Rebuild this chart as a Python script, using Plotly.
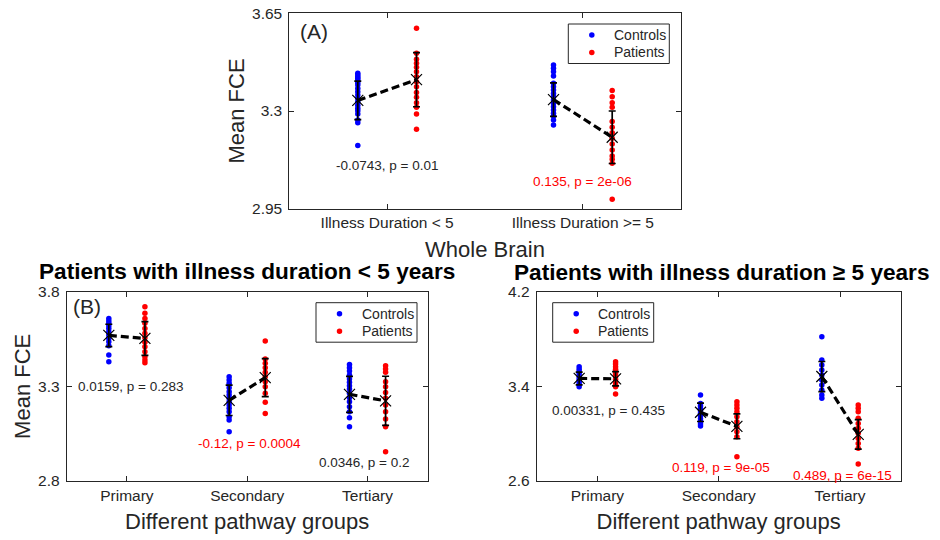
import plotly.graph_objects as go

# ---------------- Panel A: whole brain, split by illness duration ----------------
a_groups = ["Illness Duration < 5", "Illness Duration >= 5"]
a_ctrl_points = [
    [3.435, 3.429, 3.423, 3.417, 3.411, 3.401, 3.393, 3.381, 3.369, 3.357,
     3.345, 3.333, 3.321, 3.310, 3.301, 3.289, 3.268, 3.258, 3.176],
    [3.465, 3.453, 3.441, 3.425, 3.399, 3.387, 3.375, 3.363, 3.351, 3.339,
     3.328, 3.315, 3.304, 3.292, 3.282, 3.268, 3.250],
]
a_pat_points = [
    [3.596, 3.507, 3.485, 3.471, 3.457, 3.441, 3.423, 3.405, 3.387, 3.366,
     3.349, 3.330, 3.313, 3.289, 3.235],
    [3.373, 3.351, 3.330, 3.313, 3.262, 3.242, 3.222, 3.202, 3.182, 3.160,
     3.139, 3.127, 3.113, 2.984],
]
a_ctrl_mean = [3.338, 3.341]
a_ctrl_sd = [0.069, 0.060]
a_pat_sd = [0.097, 0.094]
a_diff = [-0.0743, 0.135]          # control mean minus patient mean
a_p = [0.01, 2e-06]

# ---------------- Panel B: pathway groups ----------------
pathways = ["Primary", "Secondary", "Tertiary"]

# Patients with illness duration < 5 years
bl_ctrl_points = [
    [3.659, 3.645, 3.633, 3.620, 3.606, 3.589, 3.571, 3.554, 3.536, 3.515, 3.465, 3.430],
    [3.351, 3.333, 3.316, 3.293, 3.272, 3.254, 3.237, 3.219, 3.201, 3.184, 3.166,
     3.140, 3.122, 3.060],
    [3.416, 3.398, 3.381, 3.360, 3.339, 3.321, 3.303, 3.286, 3.263, 3.240, 3.219,
     3.192, 3.166, 3.134, 3.087],
]
bl_pat_points = [
    [3.721, 3.686, 3.659, 3.633, 3.606, 3.580, 3.557, 3.533, 3.509, 3.483, 3.456,
     3.439, 3.425],
    [3.539, 3.444, 3.422, 3.398, 3.374, 3.351, 3.324, 3.298, 3.263, 3.216, 3.157],
    [3.409, 3.391, 3.374, 3.324, 3.298, 3.268, 3.237, 3.201, 3.166, 3.127, 3.087, 2.955],
]
bl_ctrl_mean = [3.569, 3.226, 3.258]
bl_ctrl_sd = [0.059, 0.080, 0.095]
bl_pat_sd = [0.089, 0.100, 0.130]
bl_diff = [0.0159, -0.12, 0.0346]
bl_p = [0.283, 0.0004, 0.2]

# Patients with illness duration >= 5 years
br_ctrl_points = [
    [3.566, 3.544, 3.524, 3.504, 3.481, 3.459, 3.439, 3.420, 3.397],
    [3.327, 3.256, 3.234, 3.214, 3.194, 3.172, 3.149, 3.127, 3.104, 3.081, 3.065],
    [3.819, 3.622, 3.580, 3.538, 3.496, 3.453, 3.411, 3.369, 3.327, 3.299],
]
br_pat_points = [
    [3.608, 3.589, 3.566, 3.544, 3.524, 3.504, 3.481, 3.459, 3.439, 3.420, 3.397, 3.335],
    [3.270, 3.242, 3.214, 3.186, 3.143, 3.101, 3.059, 3.016, 2.974, 2.805],
    [3.242, 3.214, 3.186, 3.130, 3.087, 3.045, 3.003, 2.960, 2.918, 2.876, 2.743],
]
br_ctrl_mean = [3.467, 3.181, 3.483]
br_ctrl_sd = [0.054, 0.078, 0.127]
br_pat_sd = [0.060, 0.105, 0.124]
br_diff = [0.00331, 0.119, 0.489]
br_p = [0.435, 9e-05, 6e-15]

a_yticks = [2.95, 3.3, 3.65]
bl_yticks = [2.8, 3.3, 3.8]
br_yticks = [2.6, 3.4, 4.2]

series_names = ["Controls", "Patients"]
series_colors = ["blue", "red"]

FONT = "Liberation Sans, Arial, Helvetica, sans-serif"
AXC = "#262626"
OFFSET = 0.15  # horizontal shift of controls / patients around each category
W, H = 940, 540

fig = go.Figure()


def add_panel(sfx, groups, ctrl_pts, pat_pts, ctrl_mean, ctrl_sd, pat_sd,
              diff, pvals, label_pos):
    xa, ya = "x" + sfx, "y" + sfx
    pat_mean = [c - d for c, d in zip(ctrl_mean, diff)]
    # individual subjects
    for name, pts, shift, col in zip(series_names, (ctrl_pts, pat_pts),
                                     (-OFFSET, OFFSET), series_colors):
        xs, ys = [], []
        for i, grp in enumerate(pts):
            xs += [i + 1 + shift] * len(grp)
            ys += grp
        fig.add_trace(go.Scatter(
            x=xs, y=ys, mode="markers", name=name, showlegend=False,
            marker=dict(color=col, size=5.5, line=dict(width=0)),
            xaxis=xa, yaxis=ya, hoverinfo="skip"))
    # dashed link between group means
    lx, ly = [], []
    for i in range(len(groups)):
        lx += [i + 1 - OFFSET, i + 1 + OFFSET, None]
        ly += [ctrl_mean[i], pat_mean[i], None]
    fig.add_trace(go.Scatter(
        x=lx, y=ly, mode="lines", showlegend=False,
        line=dict(color="black", width=3.2, dash="8px,4px"),
        xaxis=xa, yaxis=ya, hoverinfo="skip"))
    # means with standard deviation bars
    mx, my, me = [], [], []
    for i in range(len(groups)):
        mx += [i + 1 - OFFSET, i + 1 + OFFSET]
        my += [ctrl_mean[i], pat_mean[i]]
        me += [ctrl_sd[i], pat_sd[i]]
    fig.add_trace(go.Scatter(
        x=mx, y=my, mode="markers", showlegend=False,
        marker=dict(symbol="x-thin", size=11, color="black",
                    line=dict(width=1.2, color="black")),
        error_y=dict(type="data", array=me, visible=True, color="black",
                     thickness=1.7, width=3.5),
        xaxis=xa, yaxis=ya, hoverinfo="skip"))
    # effect size and p-value labels
    for (px, py), d, p in zip(label_pos, diff, pvals):
        fig.add_annotation(
            x=px, y=py, xref=xa, yref=ya, showarrow=False,
            xanchor="center", yanchor="middle",
            text=f"{d:g}, p = {p:g}",
            font=dict(family=FONT, size=13.5, color="red" if p < 0.01 else AXC))


def add_key(left, top, w=101, h=39.5):
    """Boxed key with a coloured dot and name per series (pixel placement)."""
    fig.add_shape(type="rect", xref="paper", yref="paper",
                  x0=left / W, x1=(left + w) / W,
                  y0=1 - (top + h) / H, y1=1 - top / H,
                  line=dict(color=AXC, width=1), fillcolor="white", layer="above")
    for row, (name, col) in enumerate(zip(series_names, series_colors)):
        cy = top + 11 + 17.5 * row
        cx = left + 23.5
        r = 2.75
        fig.add_shape(type="circle", xref="paper", yref="paper",
                      x0=(cx - r) / W, x1=(cx + r) / W,
                      y0=1 - (cy + r) / H, y1=1 - (cy - r) / H,
                      line=dict(width=0), fillcolor=col, layer="above")
        fig.add_annotation(text=name, x=(left + 43.5) / W, y=1 - cy / H,
                           xref="paper", yref="paper", xanchor="left",
                           yanchor="middle", showarrow=False,
                           font=dict(family=FONT, size=14, color=AXC))


add_panel("", a_groups, a_ctrl_points, a_pat_points, a_ctrl_mean,
          a_ctrl_sd, a_pat_sd, a_diff, a_p, [(1.0, 3.103), (2.0, 3.046)])
add_panel("2", pathways, bl_ctrl_points, bl_pat_points, bl_ctrl_mean,
          bl_ctrl_sd, bl_pat_sd, bl_diff, bl_p,
          [(1.03, 3.30), (2.02, 3.0), (2.97, 2.9)])
add_panel("3", pathways, br_ctrl_points, br_pat_points, br_ctrl_mean,
          br_ctrl_sd, br_pat_sd, br_diff, br_p,
          [(1.09, 3.2), (2.015, 2.715), (3.02, 2.65)])


def xaxis(domain, anchor, labels, title):
    return dict(domain=domain, anchor=anchor, range=[0.5, len(labels) + 0.5],
                tickvals=list(range(1, len(labels) + 1)), ticktext=labels,
                automargin=False,
                showgrid=False, zeroline=False, showline=True, linecolor=AXC,
                linewidth=1, mirror="ticks", ticks="inside", ticklen=5,
                tickcolor=AXC, tickwidth=1,
                tickfont=dict(family=FONT, size=15.5, color=AXC),
                title=dict(text=title, standoff=11,
                           font=dict(family=FONT, size=22, color=AXC)))


def yaxis(domain, anchor, ticks, title):
    return dict(domain=domain, anchor=anchor, range=[ticks[0], ticks[-1]],
                tickvals=ticks, ticktext=[f"{t:g}" for t in ticks],
                automargin=False, ticklabelstandoff=3,
                showgrid=False, zeroline=False, showline=True, linecolor=AXC,
                linewidth=1, mirror="ticks", ticks="inside", ticklen=5,
                tickcolor=AXC, tickwidth=1,
                tickfont=dict(family=FONT, size=15.5, color=AXC),
                title=dict(text=title, standoff=1,
                           font=dict(family=FONT, size=22, color=AXC)))


a_dom_x = [289.3 / W, 680.7 / W]
a_dom_y = [1 - 208.7 / H, 1 - 13.3 / H]
bl_dom_x = [66.7 / W, 427.7 / W]
br_dom_x = [536.7 / W, 900.7 / W]
b_dom_y = [1 - 481 / H, 1 - 291.7 / H]

fig.update_layout(
    width=W, height=H, margin=dict(l=0, r=0, t=0, b=0, autoexpand=False),
    paper_bgcolor="white", plot_bgcolor="white", showlegend=False,
    font=dict(family=FONT, color=AXC),
    xaxis=xaxis(a_dom_x, "y", a_groups, "Whole Brain"),
    yaxis=yaxis(a_dom_y, "x", a_yticks, "Mean FCE"),
    xaxis2=xaxis(bl_dom_x, "y2", pathways, "Different pathway groups"),
    yaxis2=yaxis(b_dom_y, "x2", bl_yticks, "Mean FCE"),
    xaxis3=xaxis(br_dom_x, "y3", pathways, "Different pathway groups"),
    yaxis3=yaxis(b_dom_y, "x3", br_yticks, ""),
)

add_key(568.3, 24)
add_key(316, 302.7)
add_key(552.7, 302.7)

# panel tags and titles
fig.add_annotation(text="(A)", x=0.063, y=0.909, xref="x domain", yref="y domain",
                   xanchor="center", yanchor="middle", showarrow=False,
                   font=dict(family=FONT, size=21, color=AXC))
fig.add_annotation(text="(B)", x=0.055, y=0.921, xref="x2 domain", yref="y2 domain",
                   xanchor="center", yanchor="middle", showarrow=False,
                   font=dict(family=FONT, size=21, color=AXC))
fig.add_annotation(text="<b>Patients with illness duration &lt; 5 years</b>",
                   x=247 / W, y=1 - 271.7 / H, xref="paper", yref="paper",
                   xanchor="center", yanchor="middle", showarrow=False,
                   font=dict(family=FONT, size=22.6, color="black"))
fig.add_annotation(text="<b>Patients with illness duration ≥ 5 years</b>",
                   x=721.7 / W, y=1 - 272.5 / H, xref="paper", yref="paper",
                   xanchor="center", yanchor="middle", showarrow=False,
                   font=dict(family=FONT, size=22.6, color="black"))

fig.write_html("out.html")
